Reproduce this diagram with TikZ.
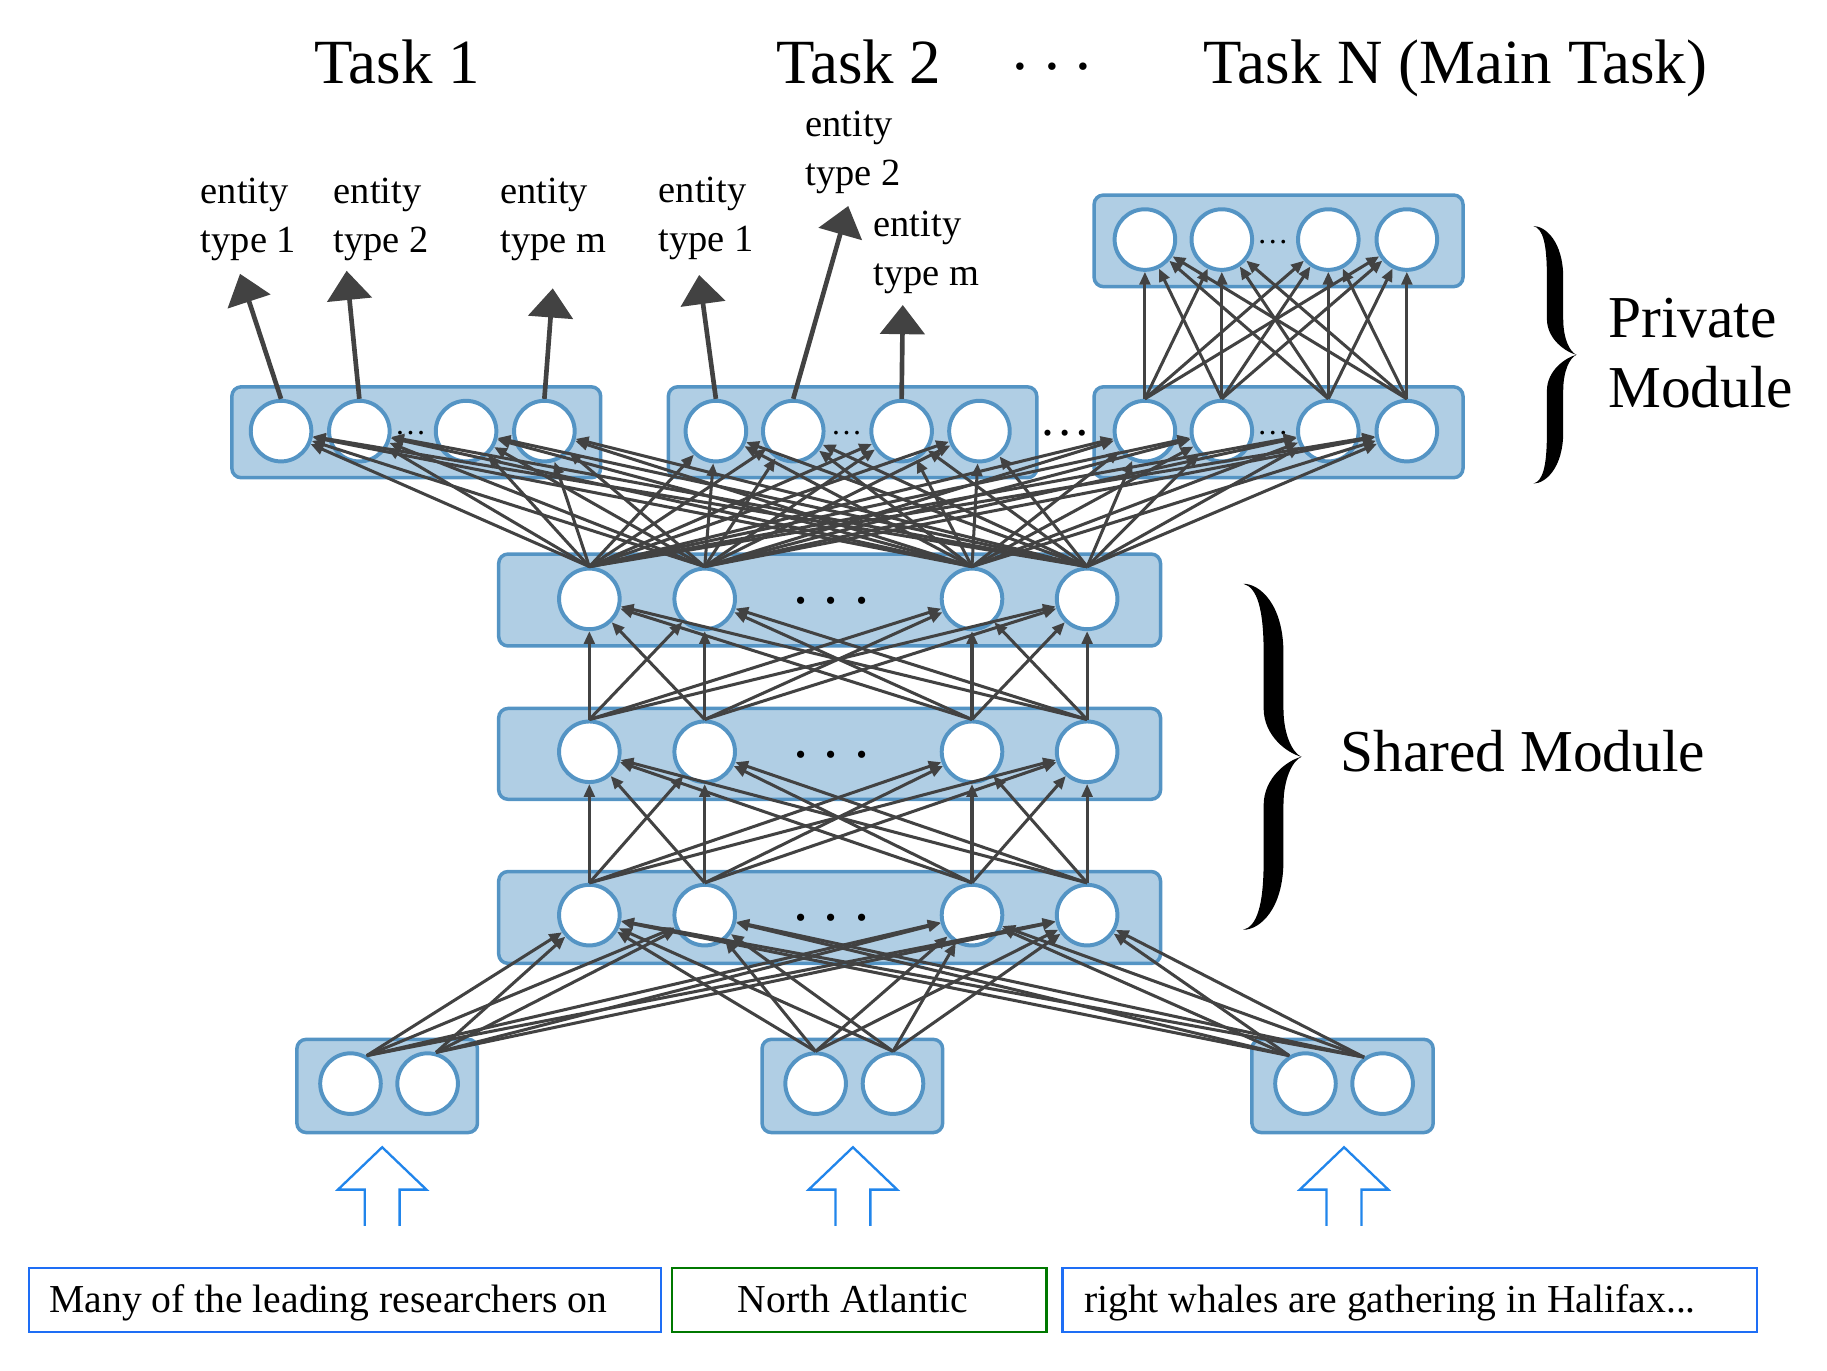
\documentclass[tikz,border=0pt]{standalone}
\usepackage{fontspec}
\setmainfont{Liberation Serif}
\usetikzlibrary{arrows.meta}

\definecolor{diagcolor0001}{RGB}{176,206,228}
\definecolor{diagcolor0002}{RGB}{84,148,196}
\definecolor{diagcolor0003}{RGB}{66,66,66}
\definecolor{diagcolor0004}{RGB}{30,110,245}
\definecolor{diagcolor0005}{RGB}{0,120,0}
\definecolor{diagcolor0006}{RGB}{33,133,235}

\begin{document}
\begin{tikzpicture}[yscale=-1
,pstyle0/.style={draw=diagcolor0002,fill=diagcolor0001,line width=1.5pt,rounded corners=4pt}
,pstyle1/.style={circle,draw=diagcolor0002,fill=white,line width=1.7pt,minimum size=26pt,inner sep=0pt}
,pstyle2/.style={color=diagcolor0003,line width=1.3pt,-{Triangle[length=5.5pt,width=4.6pt]}}
,pstyle3/.style={color=diagcolor0003,line width=2pt,-{Triangle[length=12.5pt,width=19pt]}}
,pstyle4/.style={draw=diagcolor0004,line width=1pt}
,pstyle5/.style={draw=diagcolor0005,line width=1pt}
,pstyle6/.style={draw=diagcolor0006,line width=1pt}
,pstyle7/.style={anchor=base west,align=left,inner sep=0pt,font=\fontsize{16.5}{21}\selectfont}
,pstyle8/.style={inner sep=0pt,font=\fontsize{27}{32}\selectfont}
,pstyle9/.style={inner sep=0pt,font=\fontsize{25.5}{30}\selectfont}
]
\useasboundingbox (0pt,0pt) rectangle (784pt,588pt);
% titles
\node[pstyle8,anchor=base] (task1) at (170.5pt,36pt) {Task 1};
\node[pstyle8,anchor=base] (task2) at (368.5pt,36pt) {Task 2};
\node[pstyle8] (taskdots) at (451.5pt,28.5pt) {.\ .\ .};
\node[pstyle8,anchor=base] (taskn) at (624.5pt,36pt) {Task N (Main Task)};
% layer boxes
\draw[pstyle0] (99.5pt,166pt) rectangle (257.75pt,205pt);
\draw[pstyle0] (286.8pt,166pt) rectangle (444.9pt,205pt);
\draw[pstyle0] (469.5pt,166pt) rectangle (627.8pt,205pt);
\draw[pstyle0] (469.5pt,83.7pt) rectangle (627.8pt,123pt);
\draw[pstyle0] (214pt,237.75pt) rectangle (498pt,277.2pt);
\draw[pstyle0] (214pt,304pt) rectangle (498pt,343pt);
\draw[pstyle0] (214pt,374pt) rectangle (498pt,413.4pt);
\draw[pstyle0] (127.4pt,446pt) rectangle (204.9pt,486pt);
\draw[pstyle0] (327pt,446pt) rectangle (404.5pt,486pt);
\draw[pstyle0] (537.2pt,446pt) rectangle (615pt,486pt);
% private units
\node[pstyle1] (a1) at (120.6pt,185pt) {};
\node[pstyle1] (a2) at (154.2pt,185pt) {};
\node[pstyle1] (a3) at (200pt,185pt) {};
\node[pstyle1] (a4) at (233.6pt,185pt) {};
\node[pstyle1] (b1) at (307.2pt,185pt) {};
\node[pstyle1] (b2) at (340.4pt,185pt) {};
\node[pstyle1] (b3) at (386.9pt,185pt) {};
\node[pstyle1] (b4) at (420.3pt,185pt) {};
\node[pstyle1] (c1) at (491.3pt,185pt) {};
\node[pstyle1] (c2) at (524.3pt,185pt) {};
\node[pstyle1] (c3) at (570pt,185pt) {};
\node[pstyle1] (c4) at (603.7pt,185pt) {};
\node[pstyle1] (d1) at (491.3pt,102.8pt) {};
\node[pstyle1] (d2) at (524.3pt,102.8pt) {};
\node[pstyle1] (d3) at (570pt,102.8pt) {};
\node[pstyle1] (d4) at (603.7pt,102.8pt) {};
% shared units
\node[pstyle1] (shtop1) at (252.9pt,257pt) {};
\node[pstyle1] (shtop2) at (302.4pt,257pt) {};
\node[pstyle1] (shtop3) at (417.1pt,257pt) {};
\node[pstyle1] (shtop4) at (466.5pt,257pt) {};
\node[pstyle1] (shmid1) at (252.9pt,322.6pt) {};
\node[pstyle1] (shmid2) at (302.4pt,322.6pt) {};
\node[pstyle1] (shmid3) at (417.1pt,322.6pt) {};
\node[pstyle1] (shmid4) at (466.5pt,322.6pt) {};
\node[pstyle1] (shbot1) at (252.9pt,392.7pt) {};
\node[pstyle1] (shbot2) at (302.4pt,392.7pt) {};
\node[pstyle1] (shbot3) at (417.1pt,392.7pt) {};
\node[pstyle1] (shbot4) at (466.5pt,392.7pt) {};
% input units
\node[pstyle1] (in1) at (150.4pt,465pt) {};
\node[pstyle1] (in2) at (183.5pt,465pt) {};
\node[pstyle1] (in3) at (350pt,465pt) {};
\node[pstyle1] (in4) at (383.2pt,465pt) {};
\node[pstyle1] (in5) at (560.2pt,465pt) {};
\node[pstyle1] (in6) at (593.3pt,465pt) {};
% dots
\node[inner sep=0pt,font=\fontsize{13.5}{16}\selectfont] (dotsa) at (176.2pt,186pt) {…};
\node[inner sep=0pt,font=\fontsize{13.5}{16}\selectfont] (dotsb) at (363.3pt,186pt) {…};
\node[inner sep=0pt,font=\fontsize{13.5}{16}\selectfont] (dotsc) at (546.2pt,186pt) {…};
\node[inner sep=0pt,font=\fontsize{13.5}{16}\selectfont] (dotsd) at (546.2pt,103.7pt) {…};
\node[inner sep=0pt,font=\fontsize{22}{26}\selectfont] (dotsbc) at (457pt,186pt) {…};
\node[inner sep=0pt,font=\fontsize{26}{30}\selectfont] (dotstop) at (356.8pt,257.7pt) {.\ .\ .};
\node[inner sep=0pt,font=\fontsize{26}{30}\selectfont] (dotsmid) at (356.8pt,324pt) {.\ .\ .};
\node[inner sep=0pt,font=\fontsize{26}{30}\selectfont] (dotsbot) at (356.8pt,394pt) {.\ .\ .};
% connections
\foreach \i/\a in {1/60,2/75,3/90,4/90,5/120,6/125}
  \foreach \j in {1,...,4}
    \draw[pstyle2] (in\i.\a) -- (shbot\j);
\foreach \j in {1,...,4}
  \foreach \k in {1,...,4} {
    \draw[pstyle2] (shbot\j.north) -- (shmid\k);
    \draw[pstyle2] (shmid\j.north) -- (shtop\k);
    \draw[pstyle2] (c\j.north) -- (d\k);
  }
\foreach \j in {1,...,4}
  \foreach \p in {a,b,c}
    \foreach \k in {1,...,4}
      \draw[pstyle2] (shtop\j.north) -- (\p\k);
% outputs
\coordinate (ta1) at (103pt,117.5pt);
\coordinate (ta2) at (148.75pt,116.2pt);
\coordinate (ta3) at (237.2pt,123.75pt);
\coordinate (tb1) at (300pt,118pt);
\coordinate (tb2) at (364pt,88.4pt);
\coordinate (tb3) at (387.4pt,130.9pt);
\draw[pstyle3] (a1.north) -- (ta1);
\draw[pstyle3] (a2.north) -- (ta2);
\draw[pstyle3] (a4.north) -- (ta3);
\draw[pstyle3] (b1.north) -- (tb1);
\draw[pstyle3] (b2.north) -- (tb2);
\draw[pstyle3] (b3.north) -- (tb3);
\node[pstyle7] (ent1) at (86pt,108.5pt) {entity\\type 1};
\node[pstyle7] (ent2) at (143pt,108.5pt) {entity\\type 2};
\node[pstyle7] (ent3) at (214.5pt,108.5pt) {entity\\type m};
\node[pstyle7] (ent4) at (282.5pt,108pt) {entity\\type 1};
\node[pstyle7] (ent5) at (345.5pt,79.6pt) {entity\\type 2};
\node[pstyle7] (ent6) at (374.7pt,122.6pt) {entity\\type m};
% braces
\fill[black] (658pt,97pt) .. controls (663.1pt,97pt) and (670.8pt,103.6pt) .. (670.8pt,119.1pt) -- (670.8pt,136.8pt)
  .. controls (670.8pt,145.6pt) and (673.7pt,151.1pt) .. (676.5pt,152.25pt)
  .. controls (673.7pt,153.4pt) and (670.8pt,158.9pt) .. (670.8pt,167.7pt) -- (670.8pt,185.4pt)
  .. controls (670.8pt,200.9pt) and (663.1pt,207.5pt) .. (658pt,207.5pt)
  .. controls (662.2pt,206.4pt) and (663.8pt,199.8pt) .. (663.8pt,185.4pt) -- (663.8pt,167.7pt)
  .. controls (663.8pt,158.9pt) and (671.9pt,153.4pt) .. (676.5pt,152.25pt)
  .. controls (671.9pt,151.1pt) and (663.8pt,145.6pt) .. (663.8pt,136.8pt) -- (663.8pt,119.1pt)
  .. controls (663.8pt,104.7pt) and (662.2pt,98.1pt) .. (658pt,97pt) -- cycle;
\node[pstyle9,anchor=base west,align=left] (privlabel) at (690pt,175pt) {Private\\Module};
\fill[black] (533.5pt,250.5pt) .. controls (540.65pt,250.5pt) and (550.75pt,259.4pt) .. (550.75pt,280.2pt) -- (550.75pt,303.96pt)
  .. controls (550.75pt,315.84pt) and (554.9pt,323.27pt) .. (558.5pt,324.75pt)
  .. controls (554.9pt,326.23pt) and (550.75pt,333.66pt) .. (550.75pt,345.54pt) -- (550.75pt,369.3pt)
  .. controls (550.75pt,390.09pt) and (540.65pt,399pt) .. (533.5pt,399pt)
  .. controls (539.35pt,397.5pt) and (542.25pt,388.6pt) .. (542.25pt,369.3pt) -- (542.25pt,345.54pt)
  .. controls (542.25pt,333.66pt) and (552.5pt,326.23pt) .. (558.5pt,324.75pt)
  .. controls (552.5pt,323.27pt) and (542.25pt,315.84pt) .. (542.25pt,303.96pt) -- (542.25pt,280.2pt)
  .. controls (542.25pt,260.9pt) and (539.35pt,252pt) .. (533.5pt,250.5pt) -- cycle;
\node[pstyle9,anchor=base west] (sharedlabel) at (575pt,331pt) {Shared Module};
% input arrows
\draw[pstyle6] (156.5pt,526pt) -- (156.5pt,510.5pt) -- (145pt,510.5pt) -- (164pt,492.3pt) -- (183pt,510.5pt) -- (171.5pt,510.5pt) -- (171.5pt,526pt);
\draw[pstyle6] (358.5pt,526pt) -- (358.5pt,510.5pt) -- (347pt,510.5pt) -- (366pt,492.3pt) -- (385pt,510.5pt) -- (373.5pt,510.5pt) -- (373.5pt,526pt);
\draw[pstyle6] (569.25pt,526pt) -- (569.25pt,510.5pt) -- (557.75pt,510.5pt) -- (576.75pt,492.3pt) -- (595.75pt,510.5pt) -- (584.25pt,510.5pt) -- (584.25pt,526pt);
% sentence
\draw[pstyle4] (12.5pt,544pt) rectangle (283.5pt,571.5pt);
\draw[pstyle5] (288.5pt,544pt) rectangle (449pt,571.5pt);
\draw[pstyle4] (456pt,544pt) rectangle (754pt,571.5pt);
\node[anchor=base west,inner sep=0pt,font=\fontsize{17}{20}\selectfont] (word1) at (21pt,563.3pt) {Many of the leading researchers on};
\node[anchor=base,inner sep=0pt,font=\fontsize{17}{20}\selectfont] (word2) at (366pt,563.3pt) {North Atlantic};
\node[anchor=base west,inner sep=0pt,font=\fontsize{17}{20}\selectfont] (word3) at (465pt,563.3pt) {right whales are gathering in Halifax...};
\end{tikzpicture}
\end{document}
